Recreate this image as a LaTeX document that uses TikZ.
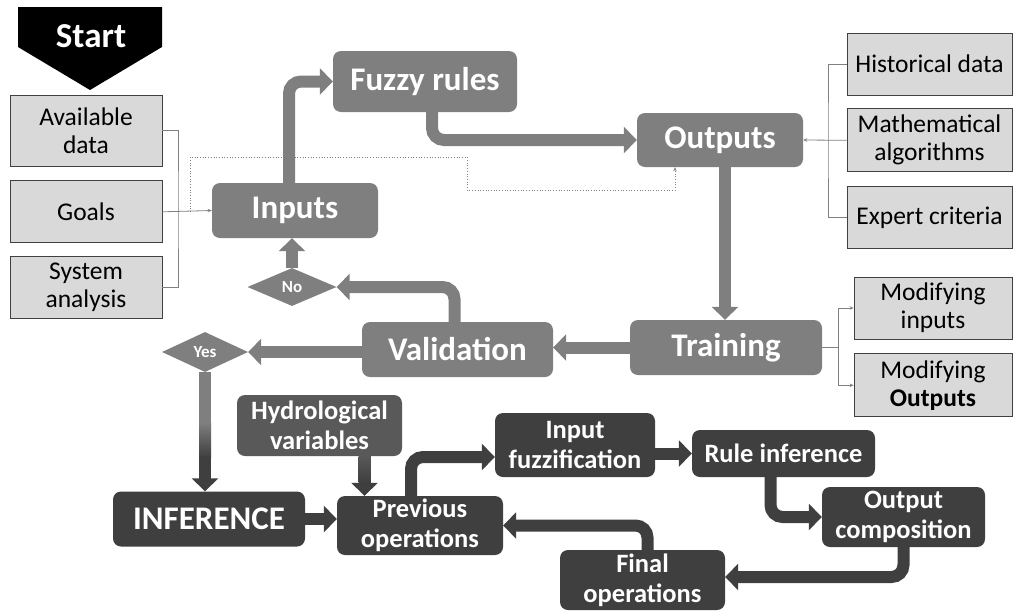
\documentclass[tikz,border=0pt]{standalone}
\usepackage{fontspec}
\setmainfont{Carlito}
\usetikzlibrary{shapes.geometric, arrows.meta, positioning, calc}
\definecolor{boxgray}{HTML}{7F7F7F}
\definecolor{boxdark}{HTML}{3F3F3F}
\definecolor{boxhydro}{HTML}{595959}
\definecolor{boxlight}{HTML}{D9D9D9}
\definecolor{boxedge}{HTML}{404040}
\definecolor{linegray}{HTML}{808080}
\tikzset{
    gblock/.style={rectangle, fill=boxgray, text=white, rounded corners=8pt, inner sep=0pt, align=center, font=\fontsize{33}{36}\selectfont\bfseries},
    dblock/.style={rectangle, fill=boxdark, text=white, rounded corners=8pt, inner sep=0pt, align=center, font=\fontsize{26.5}{30}\selectfont\bfseries},
    info/.style={rectangle, draw=boxedge, line width=0.8pt, fill=boxlight, inner sep=0pt, align=center, minimum width=152pt, minimum height=62pt, font=\fontsize{25.5}{28}\selectfont},
    decision/.style={diamond, fill=boxgray, text=white, inner sep=0pt, font=\fontsize{17}{19}\selectfont\bfseries},
    garrow/.style={-{Triangle[width=26pt,length=13pt]}, line width=12pt, draw=boxgray, rounded corners=12pt},
    darrow/.style={-{Triangle[width=26pt,length=13pt]}, line width=12pt, draw=boxdark, rounded corners=12pt},
    link/.style={draw=linegray, line width=0.8pt},
    tip/.style={-{Stealth[length=4pt, width=3.5pt]}},
    dotlink/.style={draw=linegray, line width=0.7pt, dotted},
}

\begin{document}
\begin{tikzpicture}[x=1pt, y=-1pt]
    \useasboundingbox (0,0) rectangle (1013,611);

    % Start marker
    \fill[black] (18,7) -- (162,7) -- (162,47) -- (90,90) -- (18,47) -- cycle;
    \node[text=white, font=\fontsize{35}{38}\selectfont\bfseries] (start) at (91,36) {Start};

    % Left inputs
    \node[info, minimum height=71pt] (avail) at (86,130.5) {Available\\data};
    \node[info, below=14pt of avail] (goals) {Goals};
    \node[info, below=13pt of goals] (system) {System\\analysis};

    % Learning loop
    \node[gblock, minimum width=166pt, minimum height=55pt] (inputs) at (295,210.5) {Inputs};
    \node[gblock, minimum width=184pt, minimum height=61pt] (fuzzy) at (425,81.5) {Fuzzy rules};
    \node[gblock, minimum width=166pt, minimum height=54pt] (outputs) at (720,140) {Outputs};
    \node[gblock, minimum width=192pt, minimum height=55pt] (training) at (726,347.5) {Training};
    \node[gblock, minimum width=191pt, minimum height=55pt] (validation) at (457.5,349.5) {Validation};
    \node[decision, minimum width=89pt, minimum height=38pt] (no) at (292,287) {No};
    \node[decision, minimum width=86pt, minimum height=40pt] (yes) at (205,352) {Yes};

    % Right side sources
    \node[info, minimum width=165pt] (hist) at (929.5,64) {Historical data};
    \node[info, minimum width=165pt, minimum height=63pt, below=13pt of hist] (math) {Mathematical\\algorithms};
    \node[info, minimum width=165pt, below=14pt of math] (expert) {Expert criteria};
    \node[info, minimum width=158pt] (modin) at (933,308) {Modifying\\inputs};
    \node[info, minimum width=158pt, minimum height=63pt, below=14pt of modin] (modout) {Modifying\\\textbf{Outputs}};

    % Inference chain
    \node[dblock, font=\fontsize{33}{36}\selectfont\bfseries, minimum width=192pt, minimum height=55pt] (inference) at (209,519) {INFERENCE};
    \node[dblock, minimum width=166pt, minimum height=59pt] (previous) at (420,525.5) {Previous\\operations};
    \node[dblock, fill=boxhydro, minimum width=165pt, minimum height=61pt] (hydro) at (319.5,425.5) {Hydrological\\variables};
    \node[dblock, minimum width=160pt, minimum height=64pt] (fuzzification) at (575,445) {Input\\fuzzification};
    \node[dblock, minimum width=183pt, minimum height=47pt] (rule) at (783.5,453.5) {Rule inference};
    \node[dblock, minimum width=163pt, minimum height=60pt] (composition) at (903.5,517) {Output\\composition};
    \node[dblock, minimum width=165pt, minimum height=60pt] (final) at (642.5,580) {Final\\operations};

    % Thin links
    \coordinate (lj) at (178,211);
    \coordinate (rj) at (828,140);
    \coordinate (tj) at (838,347.5);
    \coordinate (d1) at (190,157);
    \coordinate (d2) at (467,190);
    \draw[link] (avail.east) -| (lj) |- (system.east);
    \draw[link, tip] (goals.east) -- (inputs.west);
    \draw[link] (hist.west) -| (rj) |- (expert.west);
    \draw[link, tip] (math.west) -- (outputs.east);
    \draw[link] (training.east) -- (tj);
    \draw[link, tip] (tj) |- (modin.west);
    \draw[link, tip] (tj) |- (modout.west);
    \draw[dotlink, tip] (d1 |- goals.east) -- (d1) -| (d2) -| ([xshift=-45pt]outputs.south);

    % Gray arrows
    \draw[garrow] ([xshift=-6pt]inputs.north) |- (fuzzy.west);
    \draw[garrow] ([xshift=7pt]fuzzy.south) |- (outputs.west);
    \draw[garrow] ([xshift=5pt]outputs.south) -- ([xshift=5pt]outputs.south |- training.north);
    \draw[garrow] (training.west) -- (training.west -| validation.east);
    \draw[garrow] ([xshift=-3pt]validation.north) |- (no.east);
    \draw[garrow] (no.north) -- (no.north |- inputs.south);
    \draw[garrow] (validation.west |- yes.east) -- (yes.east);

    % Dark arrows
    \draw[darrow] (yes.south) -- (yes.south |- inference.north);
    \fill[boxgray] ($(yes.south)+(-6,0)$) rectangle ($(yes.south)+(6,50)$);
    \shade[top color=boxgray, bottom color=boxdark] ($(yes.south)+(-6,50)$) rectangle ($(yes.south)+(6,85)$);
    \draw[darrow] ([xshift=45pt]hydro.south) -- ([xshift=45pt]hydro.south |- previous.north);
    \shade[top color=boxhydro, bottom color=boxdark] ($(hydro.south)+(39,0)$) rectangle ($(hydro.south)+(51,26)$);
    \draw[darrow] (inference.east) -- (inference.east -| previous.west);
    \draw[darrow] ([xshift=-9pt]previous.north) |- ([yshift=-12pt]fuzzification.west);
    \draw[darrow] (fuzzification.east |- rule.west) -- (rule.west);
    \draw[darrow] ([xshift=-13pt]rule.south) |- (composition.west);
    \draw[darrow] (composition.south) |- ([yshift=3pt]final.east);
    \draw[darrow] ([xshift=5pt]final.north) |- (previous.east);
\end{tikzpicture}
\end{document}
